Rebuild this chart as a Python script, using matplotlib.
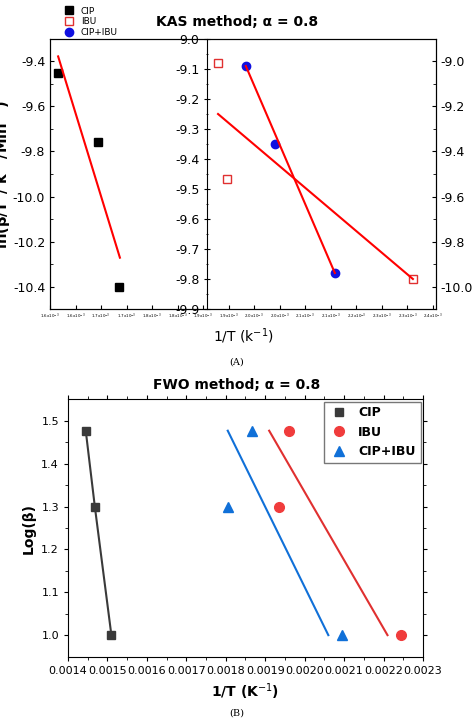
import matplotlib
matplotlib.use("Agg")
import matplotlib.pyplot as plt
from matplotlib.lines import Line2D

W, H = 474, 722
# ---- top (KAS) data
kas_cip_x = [0.001617, 0.001700, 0.001744]
kas_cip_y = [-9.453, -9.758, -10.40]
kas_cip_fit_x = [0.001617, 0.001746]
kas_cip_fit_y = [-9.38, -10.27]
kas_ibu_x = [0.001951, 0.001970, 0.002358]
kas_ibu_y = [-9.08, -9.467, -9.80]
kas_ibu_fit_x = [0.001951, 0.002358]
kas_ibu_fit_y = [-9.25, -9.80]
kas_mix_x = [0.002009, 0.002071, 0.002195]
kas_mix_y = [-9.09, -9.35, -9.78]
kas_mix_fit_x = [0.002009, 0.002195]
kas_mix_fit_y = [-9.09, -9.78]
kas_xtick_labels = ["1.6", "1.6", "1.7", "1.7", "1.8", "1.8", "1.9", "1.9", "2.0", "2.0",
                    "2.1", "2.1", "2.2", "2.3", "2.3", "2.4"]
# ---- bottom (FWO) data
fwo_cip_x = [0.001445, 0.001468, 0.001510]
fwo_cip_y = [1.477, 1.30, 1.0]
fwo_ibu_x = [0.001960, 0.001935, 0.002245]
fwo_ibu_y = [1.477, 1.30, 1.0]
fwo_ibu_fit_x = [0.001910, 0.002210]
fwo_ibu_fit_y = [1.477, 1.0]
fwo_mix_x = [0.001867, 0.001805, 0.002095]
fwo_mix_y = [1.477, 1.30, 1.0]
fwo_mix_fit_x = [0.001805, 0.002060]
fwo_mix_fit_y = [1.477, 1.0]

fig = plt.figure(figsize=(W/100, H/100), dpi=100)
def rect(x0, y0, x1, y1):
    return [x0/W, 1-y1/H, (x1-x0)/W, (y1-y0)/H]

XL = (0.0016, 0.0016 + 0.0008*386/383)
ax1 = fig.add_axes(rect(50, 39, 436, 309))
ax1.set_xlim(*XL)
ax1.set_ylim(-10.497, -9.303)
ticks = [0.0016 + i*0.0008/15 for i in range(16)]
ax1.set_xticks(ticks)
ax1.set_xticklabels([f"{t}x10$^{{-3}}$" for t in kas_xtick_labels], fontsize=2.9)
ax1.set_yticks([-9.4, -9.6, -9.8, -10.0, -10.2, -10.4])
ax1.set_yticklabels(["-9.4", "-9.6", "-9.8", "-10.0", "-10.2", "-10.4"], fontsize=9)
ax1.set_yticks([-9.5, -9.7, -9.9, -10.1, -10.3], minor=True)
ax1.tick_params(direction="in", length=3)
ax1.tick_params(axis="x", pad=2)
ax1.tick_params(which="minor", direction="in", length=2)
ax1.set_xlabel("1/T (k$^{-1}$)", fontsize=10)
ax1.set_ylabel("ln(β/T$^2$/ k$^{-1}$/Min$^{-1}$)", fontsize=10.5, fontweight="bold", labelpad=0)
h1, = ax1.plot(kas_cip_x, kas_cip_y, "s", color="black", ms=6, linestyle="none", label="CIP")
ax1.plot(kas_cip_fit_x, kas_cip_fit_y, color="red", lw=1.5)

ax3 = ax1.twinx()
ax3.set_ylim(-10.097, -8.903)
ax3.set_yticks([-9.0, -9.2, -9.4, -9.6, -9.8, -10.0])
ax3.set_yticklabels(["-9.0", "-9.2", "-9.4", "-9.6", "-9.8", "-10.0"], fontsize=9)
ax3.set_yticks([-9.1, -9.3, -9.5, -9.7, -9.9], minor=True)
ax3.tick_params(direction="in", length=3)
ax3.tick_params(which="minor", direction="in", length=2)

ax2 = fig.add_axes(rect(207, 39, 436, 309))
ax2.patch.set_alpha(0)
ax2.set_xlim(0.0016 + 0.0008*(207-50)/383, XL[1])
ax2.set_ylim(-9.9, -9.0)
ax2.set_xticks([])
for s in ["top", "right", "bottom"]:
    ax2.spines[s].set_visible(False)
ax2.set_yticks([-9.0, -9.1, -9.2, -9.3, -9.4, -9.5, -9.6, -9.7, -9.8, -9.9])
ax2.set_yticklabels(["9.0", "-9.1", "-9.2", "-9.3", "-9.4", "-9.5", "-9.6", "-9.7", "-9.8", "-9.9"], fontsize=9)
ax2.set_yticks([-9.05 - 0.1*i for i in range(9)], minor=True)
ax2.tick_params(direction="inout", length=4)
ax2.tick_params(which="minor", direction="inout", length=2)
h2, = ax2.plot(kas_ibu_x, kas_ibu_y, "s", mfc="white", mec="#e03030", ms=6, linestyle="none", label="IBU")
ax2.plot(kas_ibu_fit_x, kas_ibu_fit_y, color="red", lw=1.5)
h3, = ax2.plot(kas_mix_x, kas_mix_y, "o", color="#1010e0", ms=6, linestyle="none", label="CIP+IBU")
ax2.plot(kas_mix_fit_x, kas_mix_fit_y, color="red", lw=1.5)
fig.legend(handles=[h1, h2, h3], loc="upper left", bbox_to_anchor=(60/W, 1-2/H),
           frameon=False, fontsize=6.5, handlelength=1, labelspacing=0.2, borderpad=0)
fig.text(0.5, 1-22/H, "KAS method; α = 0.8", ha="center", va="center", fontsize=10, fontweight="bold")
fig.text(0.5, 1-362/H, "(A)", ha="center", va="center", fontsize=7, family="serif")

bx = fig.add_axes(rect(68, 399, 423, 657))
bx.set_xlim(0.0014, 0.0023)
bx.set_ylim(0.949, 1.551)
bx.set_xticks([0.0014 + 0.0001*i for i in range(10)])
bx.set_xticklabels([f"{0.0014 + 0.0001*i:.4f}" for i in range(10)], fontsize=8)
bx.set_yticks([1.0, 1.1, 1.2, 1.3, 1.4, 1.5])
bx.set_yticklabels(["1.0", "1.1", "1.2", "1.3", "1.4", "1.5"], fontsize=8)
bx.set_xticks([0.00145 + 0.0001*i for i in range(9)], minor=True)
bx.set_yticks([1.05, 1.15, 1.25, 1.35, 1.45], minor=True)
bx.tick_params(direction="out", length=3, top=True, right=True, which="both")
bx.tick_params(which="minor", length=2)
bx.set_xlabel("1/T (K$^{-1}$)", fontsize=10, fontweight="bold")
bx.set_ylabel("Log(β)", fontsize=10, fontweight="bold")
bx.plot(fwo_cip_x, fwo_cip_y, "s-", color="#3a3a3a", ms=6, lw=1.5)
bx.plot(fwo_ibu_x, fwo_ibu_y, "o", color="#f03c3c", ms=7, linestyle="none")
bx.plot(fwo_ibu_fit_x, fwo_ibu_fit_y, color="#e03030", lw=1.5)
bx.plot(fwo_mix_x, fwo_mix_y, "^", color="#1070d8", ms=7, linestyle="none")
bx.plot(fwo_mix_fit_x, fwo_mix_fit_y, color="#1070d8", lw=1.5)
handles = [Line2D([], [], marker="s", color="#3a3a3a", ls="none", ms=6),
           Line2D([], [], marker="o", color="#f03c3c", ls="none", ms=7),
           Line2D([], [], marker="^", color="#1070d8", ls="none", ms=7)]
bx.legend(handles, ["CIP", "IBU", "CIP+IBU"], loc="upper right", fancybox=False,
          edgecolor="#555555", handlelength=1.5, borderaxespad=0.2,
          prop={"weight": "bold", "size": 9})
fig.text(0.5, 1-385/H, "FWO method; α = 0.8", ha="center", va="center", fontsize=10, fontweight="bold")
fig.text(0.5, 1-713/H, "(B)", ha="center", va="center", fontsize=7, family="serif")

fig.savefig("out.png", dpi=100)
